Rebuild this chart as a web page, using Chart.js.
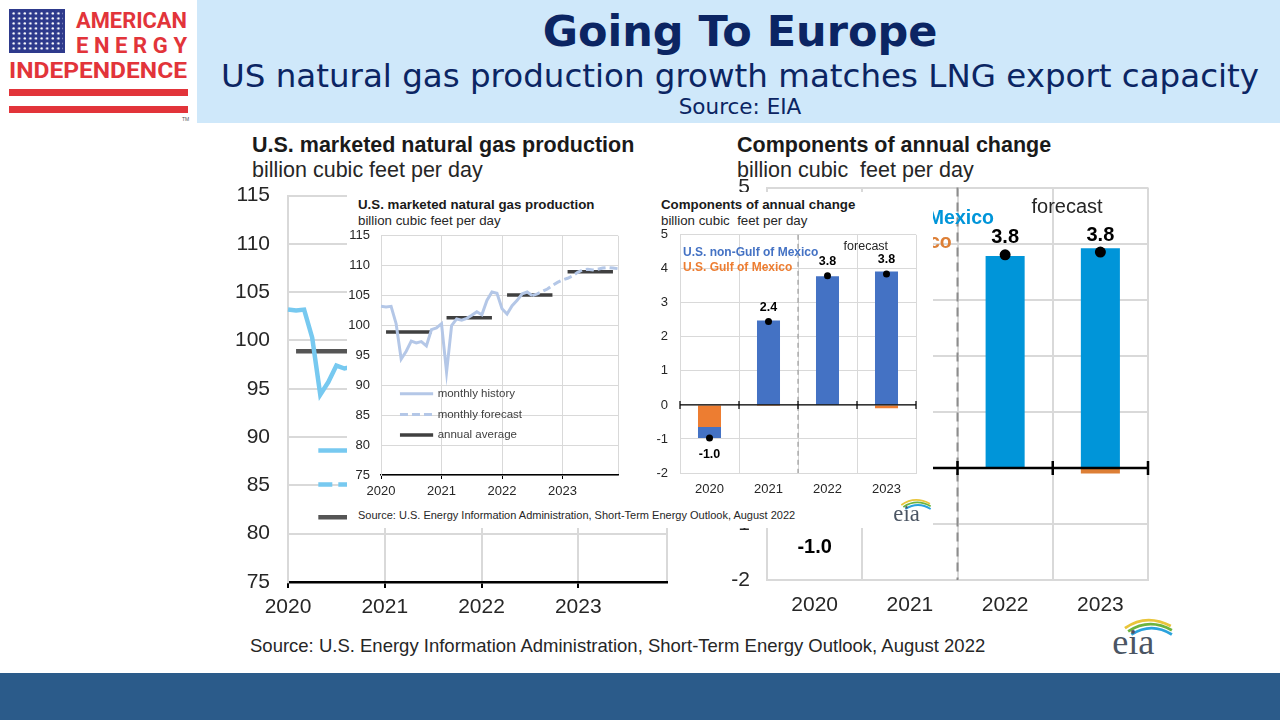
<!DOCTYPE html>
<html>
<head>
<meta charset="utf-8">
<title>Going To Europe</title>
<script src="https://cdn.jsdelivr.net/npm/chart.js@4.4.1/dist/chart.umd.min.js"></script>
<style>
  body { margin: 0; width: 1280px; height: 720px; position: relative; overflow: hidden; background: #fff;
         font-family: "Liberation Sans", Arial, sans-serif; color: #262626; }
  .abs { position: absolute; white-space: pre; line-height: 1; }
  #banner { left: 197px; top: 0; width: 1083px; height: 123px; background: #cfe8fa; }
  .head { left: 197px; width: 1086px; text-align: center; color: #0b2563; font-family: "DejaVu Sans", Verdana, sans-serif; }
  #footer { left: 0; top: 673px; width: 1280px; height: 47px; background: #2b5b8a; }
  #inset { left: 347px; top: 192px; width: 586px; height: 336px; background: #fff; z-index: 2; }
  .ttl { font-weight: bold; color: #1a1a1a; }
  .top { z-index: 3; }
  canvas { position: absolute; }
</style>
</head>
<body>
<div id="banner" class="abs"></div>

<!-- logo -->
<svg class="abs" style="left:0;top:0" width="197" height="123">
  <defs>
    <pattern id="stars" x="11" y="11" width="5.6" height="5" patternUnits="userSpaceOnUse">
      <circle cx="2.6" cy="2.4" r="1.2" fill="#fff"/>
    </pattern>
  </defs>
  <rect x="9" y="9" width="56" height="44" fill="#2e3a8c"/>
  <rect x="11" y="11" width="52" height="40" fill="url(#stars)"/>
  <g fill="#e2343a" font-family="Roboto, 'DejaVu Sans', sans-serif" font-weight="bold">
    <text x="76" y="28" font-size="22" textLength="111" lengthAdjust="spacingAndGlyphs">AMERICAN</text>
    <text x="76" y="53" font-size="22" textLength="111" lengthAdjust="spacing">ENERGY</text>
    <text x="9" y="78" font-size="22" textLength="178" lengthAdjust="spacingAndGlyphs">INDEPENDENCE</text>
  </g>
  <rect x="9" y="89" width="179" height="7" fill="#e2343a"/>
  <rect x="9" y="106" width="179" height="7" fill="#e2343a"/>
  <text x="182" y="121" font-size="5" fill="#555">TM</text>
</svg>

<div class="abs head" style="top:10px;font-size:43px;font-weight:bold">Going To Europe</div>
<div class="abs head" style="top:60px;font-size:32.5px">US natural gas production growth matches LNG export capacity</div>
<div class="abs head" style="top:96px;font-size:21.5px">Source: EIA</div>

<!-- big (background) charts -->
<div class="abs ttl" style="left:252px;top:135px;font-size:21.5px">U.S. marketed natural gas production</div>
<div class="abs" style="left:252px;top:160px;font-size:21.5px">billion cubic feet per day</div>
<div class="abs ttl" style="left:737px;top:135px;font-size:21.5px">Components of annual change</div>
<div class="abs" style="left:737px;top:160px;font-size:21.5px">billion cubic  feet per day</div>
<canvas id="bigProd" width="451" height="459" style="left:226px;top:165px;z-index:1"></canvas>
<canvas id="bigChange" width="446" height="468" style="left:712px;top:158px;z-index:1"></canvas>
<div class="abs" style="left:250px;top:637px;font-size:18.5px">Source: U.S. Energy Information Administration, Short-Term Energy Outlook, August 2022</div>
<svg class="abs" style="left:1110px;top:612px" width="64" height="45" viewBox="0 0 60 42">
  <path d="M14 15 Q34 1 57 13" stroke="#e9c53b" stroke-width="2.6" fill="none"/>
  <path d="M17 18 Q37 5 58 17" stroke="#6db33f" stroke-width="2.6" fill="none"/>
  <path d="M20 21 Q39 9 58 21" stroke="#2aa2dd" stroke-width="2.6" fill="none"/>
  <text x="2" y="39" font-size="34" font-family="'Liberation Serif', 'DejaVu Serif', serif" fill="#4b5563">eia</text>
</svg>

<!-- pasted smaller copy of the charts -->
<div id="inset" class="abs"></div>
<div class="abs ttl top" style="left:358px;top:198px;font-size:13.3px">U.S. marketed natural gas production</div>
<div class="abs top" style="left:358px;top:214px;font-size:13.3px">billion cubic feet per day</div>
<div class="abs ttl top" style="left:661px;top:198px;font-size:13.3px">Components of annual change</div>
<div class="abs top" style="left:661px;top:214px;font-size:13.3px">billion cubic  feet per day</div>
<canvas id="smallProd" width="279" height="288" style="left:345px;top:217px;z-index:3"></canvas>
<canvas id="smallChange" width="280" height="288" style="left:642px;top:215px;z-index:3"></canvas>
<div class="abs top" style="left:358px;top:510px;font-size:11px">Source: U.S. Energy Information Administration, Short-Term Energy Outlook, August 2022</div>
<svg class="abs top" style="left:892px;top:495px" width="40" height="28" viewBox="0 0 60 42">
  <path d="M14 15 Q34 1 57 13" stroke="#e9c53b" stroke-width="2.6" fill="none"/>
  <path d="M17 18 Q37 5 58 17" stroke="#6db33f" stroke-width="2.6" fill="none"/>
  <path d="M20 21 Q39 9 58 21" stroke="#2aa2dd" stroke-width="2.6" fill="none"/>
  <text x="2" y="39" font-size="34" font-family="'Liberation Serif', 'DejaVu Serif', serif" fill="#4b5563">eia</text>
</svg>

<div id="footer" class="abs"></div>

<script>
Chart.defaults.font.family = '"Liberation Sans", Arial, sans-serif';
Chart.defaults.color = '#262626';
Chart.defaults.animation = false;

// Monthly marketed gas production Jan 2020 - Dec 2023, bcf/d
const years = ['2020', '2021', '2022', '2023'];
const monthlyProd = [
    103.2, 103.1, 103.2, 100.3, 94.4, 95.7, 97.4, 97.1, 97.3, 96.6, 99.3, 99.6,
    100.3, 92.2, 100.0, 101.1, 100.9, 101.2, 101.7, 102.3, 101.8, 104.2, 105.6, 105.4,
    102.8, 101.9, 103.3, 104.2, 105.3, 105.6, 105.0, 105.3, 105.7, 106.1, 106.7, 107.2,
    107.6, 107.9, 108.3, 108.9, 109.3, 109.4, 109.3, 109.4, 109.6, 109.7, 109.6, 109.5
];
const historyMonths = 31; // Jan 2020 - Jul 2022 is history, rest is STEO forecast
const annualAvg = [98.9, 101.3, 105.1, 109.0];
const prodMin = 75, prodMax = 115, prodStep = 5;
const prodLegend = ['monthly history', 'monthly forecast', 'annual average'];

// Components of annual change, bcf/d
const nonGulf = [-0.32, 2.48, 3.78, 3.92];
const gulf = [-0.65, -0.03, 0.0, -0.10];
const totalChange = [-0.97, 2.45, 3.80, 3.85];
const totalLabels = ['-1.0', '2.4', '3.8', '3.8'];
const firstForecastYear = '2022';
const changeMin = -2, changeMax = 5, changeStep = 1;
const changeLegend = ['U.S. non-Gulf of Mexico', 'U.S. Gulf of Mexico'];

// Build the monthly series the line chart needs
const monthLabels = years.flatMap(y => ['01','02','03','04','05','06','07','08','09','10','11','12'].map(m => y + '-' + m));
const historySeries = monthlyProd.map((v, i) => i < historyMonths ? v : null);
const forecastSeries = monthlyProd.map((v, i) => i >= historyMonths - 1 ? v : null);
// annual average drawn as a flat bar over Feb..Nov of each year
const annualSeries = monthLabels.map((_, i) => (i % 12 >= 1 && i % 12 <= 10) ? annualAvg[Math.floor(i / 12)] : null);

const GRID = '#d9d9d9';
const FONT = '"Liberation Sans", Arial, sans-serif';

// Sizes for the big background copy and the small pasted copy
const bigProd = { font: 21, legendFont: 18.5, yW: 62, xH: 42, pad: { top: 10, right: 10 }, yPad: 18, tickLen: 6, xPad: 7,
    gridW: 2, axisW: 2.5, line: '#77c9f0', lineW: 4.5, dash: [14, 6], avg: '#555555', avgW: 4.5,
    legendAt: [88.6, 85.1, 81.7], legendGap: 7 };
const smallProd = { font: 13, legendFont: 11.5, yW: 36, xH: 30, pad: { top: 8, right: 6 }, yPad: 11, tickLen: 4, xPad: 5,
    gridW: 1, axisW: 1.5, line: '#b4c7e7', lineW: 3, dash: [8, 4], avg: '#404040', avgW: 3.5,
    legendAt: [88.6, 85.1, 81.7], legendGap: 4.5 };
const bigChange = { font: 21, labelFont: 20, noteFont: 20, legendFont: 19.5, yW: 55, xH: 46, pad: { top: 10, right: 10 },
    yPad: 17, xPad: 13, gridW: 2, axisW: 2.5, tick: 7, blue: '#0095d9', orange: '#dd7f36', bar: 0.41, dot: 5.5,
    up: 17, down: 25, dashW: 2, dashPat: [9, 6], legX: 7, legendAt: [4.45, 4.02] };
const smallChange = { font: 13, labelFont: 12.5, noteFont: 12.5, legendFont: 12, yW: 38, xH: 30, pad: { top: 8, right: 6 },
    yPad: 12, xPad: 9, gridW: 1, axisW: 1.2, tick: 4, blue: '#4472c4', orange: '#ed7d31', bar: 0.39, dot: 3.5,
    up: 14, down: 17, dashW: 1, dashPat: [5, 4], legX: 3, legendAt: [4.47, 4.04] };

// Legend drawn inside the plot area, like the EIA original
function prodLegendPlugin(sz) {
    return {
        id: 'prodLegend',
        afterDatasetsDraw(chart) {
            const { ctx, chartArea: a, scales: { y } } = chart;
            const w = a.right - a.left;
            const x0 = a.left + w * 0.08, x1 = a.left + w * 0.22;
            const styles = [
                { c: sz.line, w: sz.lineW, d: [] },
                { c: sz.line, w: sz.lineW, d: sz.dash },
                { c: sz.avg, w: sz.avgW, d: [] }
            ];
            ctx.save();
            ctx.font = sz.legendFont + 'px ' + FONT;
            ctx.fillStyle = '#404040';
            ctx.textBaseline = 'middle';
            prodLegend.forEach((txt, i) => {
                const yy = y.getPixelForValue(sz.legendAt[i]);
                ctx.beginPath();
                ctx.strokeStyle = styles[i].c;
                ctx.lineWidth = styles[i].w;
                ctx.setLineDash(styles[i].d);
                ctx.moveTo(x0, yy);
                ctx.lineTo(x1, yy);
                ctx.stroke();
                ctx.fillText(txt, x1 + sz.legendGap, yy);
            });
            ctx.restore();
        }
    };
}

// Zero axis, forecast divider, value labels and legend text for the bar chart
function changeNotesPlugin(sz) {
    return {
        id: 'changeNotes',
        afterDatasetsDraw(chart) {
            const { ctx, chartArea: a, scales: { x, y } } = chart;
            const step = x.getPixelForValue(1) - x.getPixelForValue(0);
            const edge = i => x.getPixelForValue(i) - step / 2;
            const y0 = y.getPixelForValue(0);
            const fIdx = years.indexOf(firstForecastYear);
            ctx.save();

            ctx.strokeStyle = '#8c8c8c';
            ctx.lineWidth = sz.dashW;
            ctx.setLineDash(sz.dashPat);
            ctx.beginPath();
            ctx.moveTo(edge(fIdx), a.top);
            ctx.lineTo(edge(fIdx), a.bottom);
            ctx.stroke();
            ctx.setLineDash([]);

            ctx.strokeStyle = '#000';
            ctx.lineWidth = sz.axisW;
            ctx.beginPath();
            ctx.moveTo(a.left, y0);
            ctx.lineTo(a.right, y0);
            for (let i = 0; i <= years.length; i++) {
                ctx.moveTo(edge(i), y0 - sz.tick);
                ctx.lineTo(edge(i), y0 + sz.tick);
            }
            ctx.stroke();

            ctx.textAlign = 'center';
            ctx.textBaseline = 'middle';
            ctx.fillStyle = '#000';
            ctx.font = 'bold ' + sz.labelFont + 'px ' + FONT;
            const dots = chart.getDatasetMeta(0).data;
            totalLabels.forEach((t, i) => {
                const p = dots[i];
                ctx.fillText(t, p.x, totalChange[i] < 0 ? p.y + sz.down : p.y - sz.up);
            });

            ctx.fillStyle = '#262626';
            ctx.font = sz.noteFont + 'px ' + FONT;
            ctx.fillText('forecast', x.getPixelForValue(fIdx) + 0.65 * step, y.getPixelForValue(4.65));

            ctx.textAlign = 'left';
            ctx.font = 'bold ' + sz.legendFont + 'px ' + FONT;
            [sz.blue, sz.orange].forEach((c, i) => {
                ctx.fillStyle = c;
                ctx.fillText(changeLegend[i], a.left + sz.legX, y.getPixelForValue(sz.legendAt[i]));
            });
            ctx.restore();
        }
    };
}

function makeProdChart(id, sz) {
    return new Chart(document.getElementById(id), {
        type: 'line',
        data: {
            labels: monthLabels,
            datasets: [
                { data: historySeries, borderColor: sz.line, borderWidth: sz.lineW, pointRadius: 0 },
                { data: forecastSeries, borderColor: sz.line, borderWidth: sz.lineW, borderDash: sz.dash, pointRadius: 0 },
                { data: annualSeries, borderColor: sz.avg, borderWidth: sz.avgW, borderCapStyle: 'butt', pointRadius: 0 }
            ]
        },
        options: {
            responsive: false,
            animation: false,
            layout: { padding: sz.pad },
            plugins: { legend: { display: false }, tooltip: { enabled: false } },
            scales: {
                x: {
                    ticks: {
                        autoSkip: false, maxRotation: 0, padding: sz.xPad, font: { size: sz.font }, color: '#262626',
                        callback: (v, i) => i % 12 === 0 ? monthLabels[i].slice(0, 4) : ''
                    },
                    grid: {
                        color: c => (c.index % 12 === 0 || c.index === monthLabels.length - 1) ? GRID : 'transparent',
                        tickColor: c => c.index % 12 === 0 ? '#000' : 'transparent',
                        tickLength: sz.tickLen, lineWidth: sz.gridW
                    },
                    border: { color: '#000', width: sz.axisW },
                    afterFit: s => { s.height = sz.xH; }
                },
                y: {
                    min: prodMin, max: prodMax,
                    ticks: { stepSize: prodStep, padding: sz.yPad, font: { size: sz.font }, color: '#262626' },
                    grid: { color: GRID, lineWidth: sz.gridW, drawTicks: false },
                    border: { color: GRID, width: sz.gridW },
                    afterFit: s => { s.width = sz.yW; }
                }
            }
        },
        plugins: [prodLegendPlugin(sz)]
    });
}

function makeChangeChart(id, sz) {
    return new Chart(document.getElementById(id), {
        type: 'bar',
        data: {
            labels: years,
            datasets: [
                { type: 'line', data: totalChange, showLine: false, pointRadius: sz.dot, pointBackgroundColor: '#000',
                  pointBorderColor: '#000', pointBorderWidth: 0, order: 0, stack: 'total' },
                { data: gulf, backgroundColor: sz.orange, barPercentage: sz.bar, categoryPercentage: 1, order: 1 },
                { data: nonGulf, backgroundColor: sz.blue, barPercentage: sz.bar, categoryPercentage: 1, order: 1 }
            ]
        },
        options: {
            responsive: false,
            animation: false,
            layout: { padding: sz.pad },
            plugins: { legend: { display: false }, tooltip: { enabled: false } },
            scales: {
                x: {
                    stacked: true,
                    ticks: { padding: sz.xPad, font: { size: sz.font }, color: '#262626' },
                    grid: { color: GRID, lineWidth: sz.gridW, drawTicks: false },
                    border: { color: GRID, width: sz.gridW },
                    afterFit: s => { s.height = sz.xH; }
                },
                y: {
                    stacked: true, min: changeMin, max: changeMax,
                    ticks: { stepSize: changeStep, padding: sz.yPad, font: { size: sz.font }, color: '#262626' },
                    grid: { color: GRID, lineWidth: sz.gridW, drawTicks: false },
                    border: { color: GRID, width: sz.gridW },
                    afterFit: s => { s.width = sz.yW; }
                }
            }
        },
        plugins: [changeNotesPlugin(sz)]
    });
}

makeProdChart('bigProd', bigProd);
makeChangeChart('bigChange', bigChange);
makeProdChart('smallProd', smallProd);
makeChangeChart('smallChange', smallChange);
</script>
</body>
</html>
